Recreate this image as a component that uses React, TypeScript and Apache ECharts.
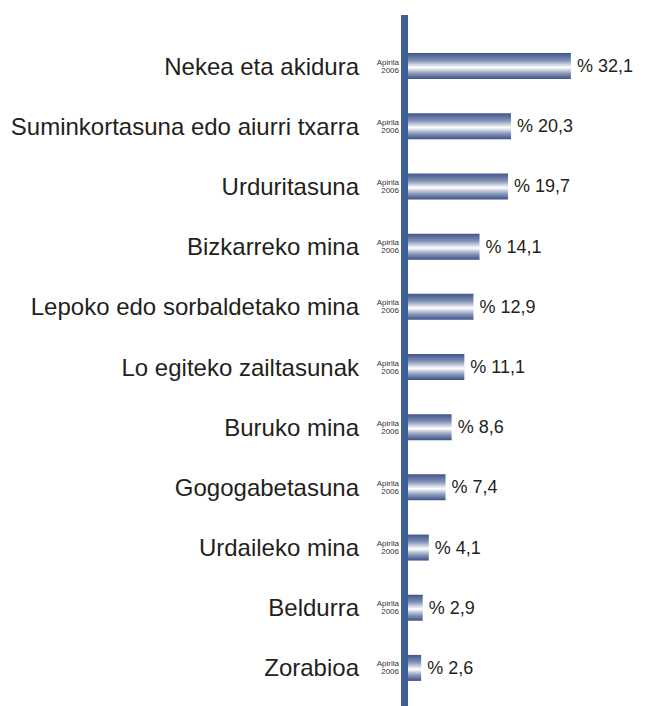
import React, { useEffect, useRef } from "react";
import * as echarts from "echarts";

const categories = [
  "Nekea eta akidura",
  "Suminkortasuna edo aiurri txarra",
  "Urduritasuna",
  "Bizkarreko mina",
  "Lepoko edo sorbaldetako mina",
  "Lo egiteko zailtasunak",
  "Buruko mina",
  "Gogogabetasuna",
  "Urdaileko mina",
  "Beldurra",
  "Zorabioa",
];
const values = [32.1, 20.3, 19.7, 14.1, 12.9, 11.1, 8.6, 7.4, 4.1, 2.9, 2.6];
const periodLabel = "Apirila\n2006";

const FONT = "'Liberation Sans', Arial, Helvetica, sans-serif";

export default function App() {
  const ref = useRef<HTMLDivElement>(null);
  useEffect(() => {
    document.body.style.margin = "0";
    if (!ref.current) return;
    const chart = echarts.init(ref.current, null, { renderer: "svg" });
    const barGradient = new echarts.graphic.LinearGradient(0, 0, 0, 1, [
      { offset: 0, color: "#40558c" },
      { offset: 0.28, color: "#8090b4" },
      { offset: 0.55, color: "#ffffff" },
      { offset: 0.78, color: "#8a98b9" },
      { offset: 1, color: "#3c5189" },
    ]);
    chart.setOption({
      animation: false,
      backgroundColor: "#ffffff",
      grid: { left: 408, right: 34, top: 36, bottom: 8, containLabel: false },
      xAxis: {
        type: "value",
        min: 0,
        max: 40,
        show: false,
      },
      yAxis: [
        {
          type: "category",
          data: categories,
          inverse: true,
          position: "left",
          axisLine: { show: false },
          axisTick: { show: false },
          axisLabel: {
            margin: 49,
            fontSize: 24,
            color: "#231f20",
            fontFamily: FONT,
          },
        },
        {
          type: "category",
          data: categories,
          inverse: true,
          position: "left",
          axisLine: { show: false },
          axisTick: { show: false },
          axisLabel: {
            margin: 9,
            fontSize: 8,
            lineHeight: 8,
            color: "#333333",
            fontFamily: FONT,
            align: "right",
            formatter: () => periodLabel,
          },
        },
      ],
      graphic: [
        {
          type: "rect",
          left: 401,
          top: 15,
          shape: { width: 7, height: 691 },
          style: { fill: "#3f5f96" },
          z: 10,
        },
      ],
      series: [
        {
          type: "bar",
          yAxisIndex: 0,
          data: values,
          barWidth: 26,
          itemStyle: { color: barGradient },
          label: {
            show: true,
            position: "right",
            distance: 6,
            fontSize: 18,
            color: "#231f20",
            fontFamily: FONT,
            formatter: (p: any) => "% " + String(p.value).replace(".", ","),
          },
        },
      ],
    });
    return () => chart.dispose();
  }, []);
  return <div ref={ref} style={{ width: 645, height: 706 }} />;
}
